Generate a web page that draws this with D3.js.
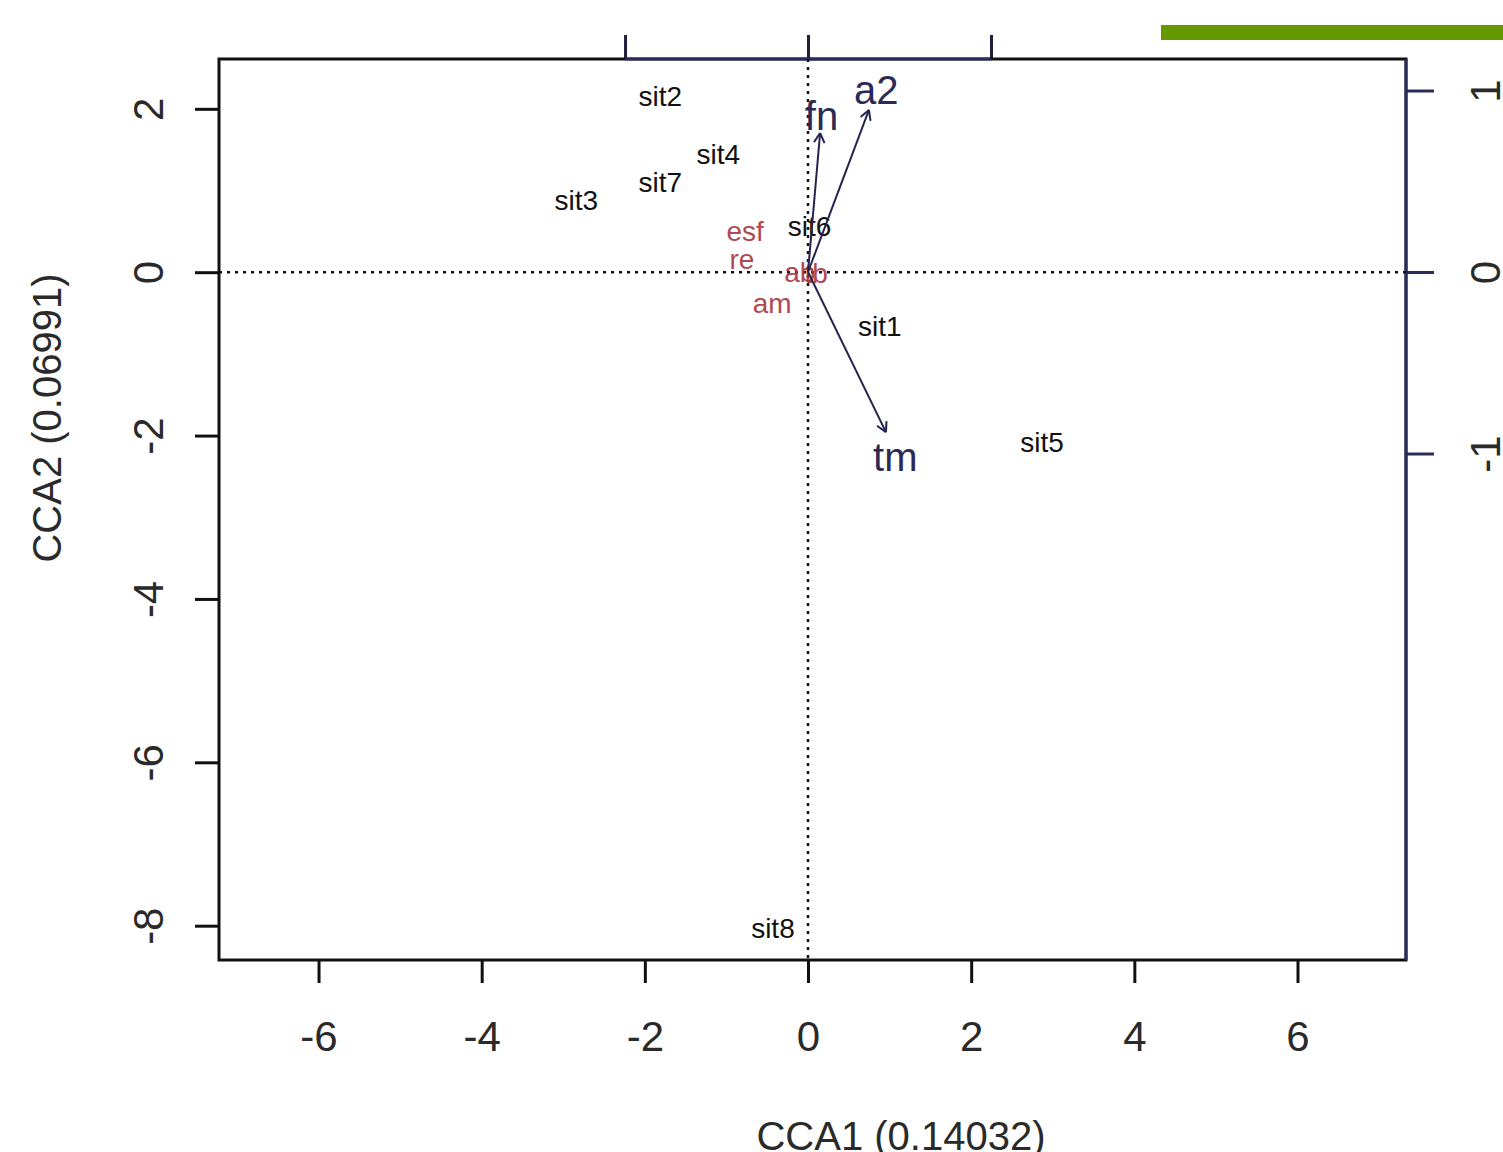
<!DOCTYPE html>
<html>
<head>
<meta charset="utf-8">
<script src="https://cdn.jsdelivr.net/npm/d3@7"></script>
<style>
body{margin:0;background:#fff;}
svg{display:block;font-family:"Liberation Sans",Arial,sans-serif;}
</style>
</head>
<body>
<div class="mainView"></div>
<script>
// site scores (CCA1, CCA2)
let siteNames = ["sit1","sit2","sit3","sit4","sit5","sit6","sit7","sit8"]
let siteX = [0.88,-1.81,-2.84,-1.10,2.87,0.02,-1.81,-0.43]
let siteY = [-0.67,2.15,0.88,1.44,-2.09,0.56,1.10,-8.03]

// species scores
let specNames = ["esf","re","am","ab","tb"]
let specX = [-0.77,-0.81,-0.44,-0.10,0.10]
let specY = [0.50,0.16,-0.38,0.0,-0.02]

// biplot arrows (secondary axes)
let envNames = ["fn","a2","tm"]
let envX = [0.066,0.333,0.426]
let envY = [0.766,0.893,-0.882]

let xTicks = [-6,-4,-2,0,2,4,6]
let yTicks = [2,0,-2,-4,-6,-8]
let x2Ticks = [-1,0,1]
let y2Ticks = [-1,0,1]

function getConfig(){
    let width = 1503, height = 1152
    let svg = d3.select(".mainView").append("svg")
        .attr("width",width).attr("height",height)
    return {width,height,svg}
}

function getScales(){
    let xScale = d3.scaleLinear().domain([-7.22,7.33]).range([219,1406])
    let yScale = d3.scaleLinear().domain([2.61,-8.42]).range([59,960])
    let x2Scale = d3.scaleLinear().domain([-3.219,3.268]).range([219,1406])
    let y2Scale = d3.scaleLinear().domain([1.1736,-3.7906]).range([59,960])
    return {xScale,yScale,x2Scale,y2Scale}
}

function fmt(d){ return d<0 ? "-"+Math.abs(d) : d }

function drawAxes(scales,config){
    let {xScale,yScale,x2Scale,y2Scale} = scales
    let svg = config.svg

    let axB = svg.append("g").attr("transform","translate(0,960)")
        .call(d3.axisBottom(xScale).tickValues(xTicks).tickSize(23).tickPadding(38))
    axB.select(".domain").remove()
    axB.selectAll("line").attr("stroke","#111").attr("stroke-width",3)
    axB.selectAll("text").style("font-size","42px").attr("fill","#2a2a2a").text(fmt)

    let axL = svg.append("g").attr("transform","translate(219,0)")
        .call(d3.axisLeft(yScale).tickValues(yTicks).tickSize(24).tickFormat(""))
    axL.select(".domain").remove()
    axL.selectAll("line").attr("stroke","#111").attr("stroke-width",3)
    axL.selectAll(".tick").append("text")
        .attr("transform","translate(-71,0) rotate(-90)")
        .attr("text-anchor","middle").attr("dominant-baseline","central")
        .attr("fill","#2a2a2a").style("font-size","42px").text(fmt)

    let axT = svg.append("g").attr("transform","translate(0,59)")
        .call(d3.axisTop(x2Scale).tickValues(x2Ticks).tickSize(24).tickFormat(""))
    axT.select(".domain").remove()
    axT.selectAll("line").attr("stroke","#1f1f3a").attr("stroke-width",3)

    let axR = svg.append("g").attr("transform","translate(1406,0)")
        .call(d3.axisRight(y2Scale).tickValues(y2Ticks).tickSize(28).tickFormat(""))
    axR.select(".domain").remove()
    axR.selectAll("line").attr("stroke","#2c2c5a").attr("stroke-width",3)
    axR.selectAll(".tick").append("text")
        .attr("transform","translate(79,0) rotate(-90)")
        .attr("text-anchor","middle").attr("dominant-baseline","central")
        .attr("fill","#2a2a2a").style("font-size","42px").text(fmt)

    // box
    svg.append("rect").attr("x",219).attr("y",59).attr("width",1187).attr("height",901)
        .attr("fill","none").attr("stroke","#111").attr("stroke-width",3)
    svg.append("line").attr("x1",1406).attr("x2",1406).attr("y1",59).attr("y2",960)
        .attr("stroke","#2c2c5a").attr("stroke-width",3)
    svg.append("line").attr("x1",x2Scale(-1)).attr("x2",x2Scale(1))
        .attr("y1",59).attr("y2",59).attr("stroke","#2c2c5a").attr("stroke-width",3)

    // zero lines
    svg.append("line").attr("x1",219).attr("x2",1406).attr("y1",yScale(0)).attr("y2",yScale(0))
        .attr("stroke","#111").attr("stroke-width",2.5).attr("stroke-dasharray","3,5")
    svg.append("line").attr("x1",xScale(0)).attr("x2",xScale(0)).attr("y1",59).attr("y2",960)
        .attr("stroke","#111").attr("stroke-width",2.5).attr("stroke-dasharray","3,5")

    svg.append("text").attr("x",901).attr("y",1150).attr("text-anchor","middle")
        .style("font-size","40px").attr("fill","#2a2a2a").text("CCA1 (0.14032)")
    svg.append("text").attr("transform","translate(47,418) rotate(-90)")
        .attr("text-anchor","middle").attr("dominant-baseline","central")
        .style("font-size","40px").attr("fill","#2a2a2a").text("CCA2 (0.06991)")

    svg.append("rect").attr("x",1161).attr("y",25).attr("width",342).attr("height",15).attr("fill","#669900")
}

function drawPoints(scales,config){
    let {xScale,yScale,x2Scale,y2Scale} = scales
    let svg = config.svg

    let sites = siteNames.map((n,i)=>({n,x:siteX[i],y:siteY[i]}))
    svg.selectAll(".site").data(sites).enter().append("text")
        .attr("class","site")
        .attr("x",d=>xScale(d.x)).attr("y",d=>yScale(d.y))
        .attr("text-anchor","middle").attr("dominant-baseline","central")
        .style("font-size","28px").attr("fill","#111").text(d=>d.n)

    let spec = specNames.map((n,i)=>({n,x:specX[i],y:specY[i]}))
    svg.selectAll(".spec").data(spec).enter().append("text")
        .attr("class","spec")
        .attr("x",d=>xScale(d.x)).attr("y",d=>yScale(d.y))
        .attr("text-anchor","middle").attr("dominant-baseline","central")
        .style("font-size","28px").attr("fill","#a8353f").attr("opacity",0.9).text(d=>d.n)

    let env = envNames.map((n,i)=>({n,x:envX[i],y:envY[i]}))
    let col = "#24244f"
    let g = svg.append("g")
    env.forEach(d=>{
        let x0 = x2Scale(0), y0 = y2Scale(0)
        let x1 = x2Scale(d.x), y1 = y2Scale(d.y)
        g.append("line").attr("x1",x0).attr("y1",y0).attr("x2",x1).attr("y2",y1)
            .attr("stroke",col).attr("stroke-width",2)
        let a = Math.atan2(y1-y0,x1-x0)
        let len = 11
        ;[-0.5,0.5].forEach(s=>{
            g.append("line").attr("x1",x1).attr("y1",y1)
                .attr("x2",x1-len*Math.cos(a+s)).attr("y2",y1-len*Math.sin(a+s))
                .attr("stroke",col).attr("stroke-width",2)
        })
        g.append("text")
            .attr("x",x2Scale(d.x*1.12)).attr("y",y2Scale(d.y*1.12)+(d.y<0?6:0))
            .attr("text-anchor","middle").attr("dominant-baseline","central")
            .style("font-size","40px").attr("fill","#2a2a55").text(d.n)
    })
}

let config = getConfig()
let scales = getScales()
drawAxes(scales,config)
drawPoints(scales,config)
</script>
</body>
</html>
